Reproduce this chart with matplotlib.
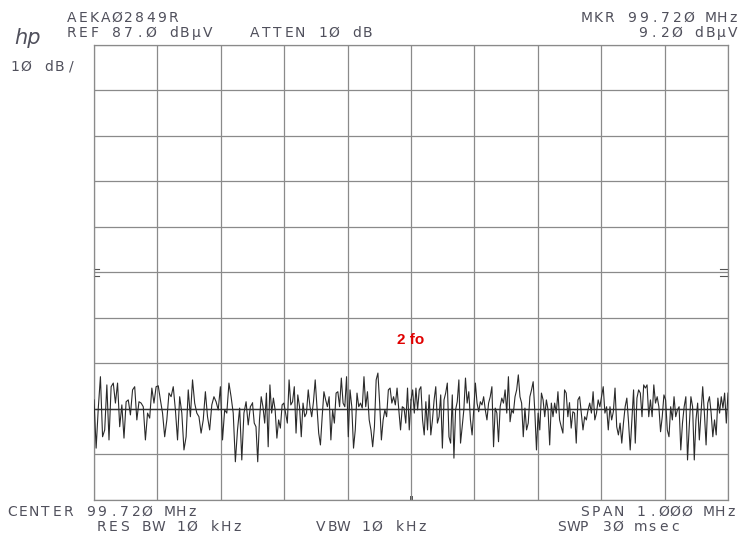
import numpy as np
import matplotlib
matplotlib.use("Agg")
import matplotlib.pyplot as plt

# Spectrum analyser settings
center_mhz = 99.720
span_mhz = 1.000
ref_level = 87.0
db_per_div = 10

# Noise trace (dBuV), one list per quarter of the span
trace_q1 = [9.0, -1.6, 7.2, 14.1, 0.9, 2.4, 12.3, 0.2, 11.9, 12.7, 8.3, 12.7, 3.1, 7.9, 0.6, 8.6,
            9.0, 5.7, 11.2, 11.9, 4.6, 8.6, 8.3, 7.5, 0.2, 6.1, 5.0, 11.6, 8.3, 11.9, 12.1, 9.0,
            6.1, 0.9, 4.6, 10.5, 9.7, 11.9, 6.8, 0.2, 9.7, 6.1, -2.0, 0.9, 11.2, 5.3, 13.4, 8.3,
            6.1, 5.3, 1.7, 4.6, 10.8, 5.3, 2.4, 7.9, 9.7, 8.6, 6.8, 11.9, 0.2, 6.8, 6.1, 12.7,
            9.7, 6.1, -4.6, 2.4, 7.2, -4.2, 6.1, 8.6, 3.5, 7.5]
trace_q2 = [8.3, 3.9, 3.1, -4.6, 4.6, 9.7, 7.5, 3.9, 10.5, -1.3, 12.3, 6.1, 9.4, 6.8, 0.6, 4.6,
            2.8, 7.9, 8.3, 6.1, 3.9, 13.4, 7.9, 8.6, 11.9, 1.7, 10.1, 7.5, 0.9, 8.3, 5.3, 6.1,
            11.2, 7.5, 5.3, 8.6, 13.4, 7.5, 1.7, -0.9, 5.3, 10.8, 9.0, 7.5, 9.7, 0.2, 6.8, 3.9,
            10.5, 10.8, 7.5, 13.8, 8.3, 7.5, 14.1, 0.9, 11.2, 7.5, -1.6, 2.4, 10.5, 7.5, 8.3, 7.2,
            14.1, 7.5, 10.8, 4.6, 2.4, -1.3, 3.1, 13.4, 14.9, 8.3, 0.2, 4.6, 6.8, 5.3, 11.2, 11.6,
            8.3, 9.7, 7.9, 11.6, 6.8, 2.4, 7.5, 7.2, 3.9, 11.6, 2.4]
trace_q3 = [9.0, 11.2, 6.1, 11.6, 6.8, 11.2, 11.9, 4.6, 1.3, 8.6, 2.4, 10.1, 1.3, 4.6, 9.0, 11.9,
            3.9, 5.3, 10.1, -1.6, 9.0, 10.5, 12.7, 0.9, -0.5, 10.1, -3.8, 6.8, 8.6, 13.4, -0.5, 3.1,
            6.8, 13.8, 8.3, 10.8, 4.6, 1.3, 6.8, 12.7, 8.3, 6.4, 8.6, 7.9, 9.7, 6.8, 4.6, 8.3,
            9.7, 11.9, -1.3, 7.2, 6.1, -0.2, 7.5, 9.4, 8.3, 11.2, 6.1, 14.1, 4.2, 6.8, 6.1, 9.7,
            11.2, 14.5, 9.7, 8.3, 0.9, 7.2, 2.4, 3.9, 9.7, 11.2, 13.0, 6.4, -2.0, 6.1, 2.4, 10.5,
            9.0, 5.3, 9.0, 6.8, -0.9, 8.3, 5.3, 8.3, 6.1, 10.8, 4.6, 3.1, 1.7, 11.2, 10.5, 5.3]
trace_q4 = [8.3, 2.8, 6.4, 6.1, -0.5, 9.0, 9.7, 6.1, 2.4, 5.3, 4.6, 6.8, 8.3, 6.1, 10.8, 4.6,
            6.1, 9.0, 7.5, 9.7, 11.9, 6.1, 7.5, 2.4, 7.5, 4.6, 6.4, 11.6, 3.1, 1.3, 3.9, -0.5,
            3.9, 7.5, 9.4, 4.2, -2.0, 4.6, 11.2, -0.5, 9.4, 11.2, 10.5, 5.3, 12.3, 11.6, 12.3, 5.3,
            9.0, 5.3, 12.3, 8.3, 9.7, 7.5, 2.0, 5.3, 10.1, 9.0, 2.4, 0.9, 7.5, 4.6, 9.7, 5.3,
            6.8, 7.5, -2.0, 3.9, 7.5, 9.7, -4.2, 3.1, 9.7, 7.5, -4.2, 4.6, 8.3, 0.2, 6.1, 11.9,
            6.1, -0.9, 8.3, 9.7, 6.1, 0.9, 4.6, 1.3, 9.4, 6.1, 9.7, 7.2, 10.5, 3.9, 10.5]

W, H = 754, 546
ink = "#50505c"

fig = plt.figure(figsize=(W / 100, H / 100), dpi=100)
fig.patch.set_facecolor("white")
ax = fig.add_axes([94 / W, 1 - 500 / H, 634 / W, 455 / H])

f0 = center_mhz - span_mhz / 2
f1 = center_mhz + span_mhz / 2
y_bot = ref_level - 10 * db_per_div

# grid
for i in range(11):
    ax.axvline(f0 + i * span_mhz / 10, color="#8a8a8a", lw=0.9, zorder=1)
    ax.axhline(y_bot + i * db_per_div, color="#8a8a8a", lw=0.9, zorder=1)
ax.axhline(y_bot + 2 * db_per_div, color="#333333", lw=1.0, zorder=2)

# trace, each quarter spread over its part of the span
quarters = [trace_q1, trace_q2, trace_q3, trace_q4]
edges = np.linspace(f0, f1, 5)
for k, q in enumerate(quarters):
    n = len(q)
    fx = np.linspace(edges[k], edges[k + 1], n, endpoint=(k == 3))
    if k < 3:
        fx = np.append(fx, edges[k + 1])
        q = q + [quarters[k + 1][0]]
    ax.plot(fx, q, color="#2a2a2a", lw=0.8, zorder=3)

ax.set_xlim(f0, f1)
ax.set_ylim(y_bot, ref_level)
ax.set_xticks([])
ax.set_yticks([])
for s in ax.spines.values():
    s.set_color("#8a8a8a")
    s.set_linewidth(0.9)

# small reference marks on the sides and bottom centre
mid = y_bot + 5 * db_per_div
for yy in (mid + 0.7, mid - 0.7):
    ax.plot([f0, f0 + 0.008], [yy, yy], color="#555555", lw=0.8, clip_on=False)
    ax.plot([f1 - 0.012, f1], [yy, yy], color="#555555", lw=0.8, clip_on=False)
for xx in (center_mhz - 0.002, center_mhz + 0.002):
    ax.plot([xx, xx], [y_bot, y_bot + 0.8], color="#555555", lw=0.7, clip_on=False)

ax.text(0.5, 0.352, "2 fo", transform=ax.transAxes, ha="center", va="center",
        color="#e00000", fontsize=11, fontweight="bold", family="Liberation Sans", zorder=5)


def hp_text(x, y, s, adv=11.3):
    # plotter style text, fixed wide character cells
    for i, ch in enumerate(s):
        if ch == " ":
            continue
        fig.text((x + i * adv + adv / 2) / W, 1 - y / H, ch, ha="center", va="center",
                 fontsize=10, color=ink, family="DejaVu Sans")


hp_text(66, 18, "AEKAØ2849R")
hp_text(66, 33, "REF 87.Ø dBµV")
hp_text(249, 33, "ATTEN 1Ø dB")
hp_text(9, 67, "1Ø dB/")
hp_text(581, 18, "MKR 99.72Ø MHz")
hp_text(637, 33, "9.2Ø dBµV")
hp_text(6, 512, "CENTER 99.72Ø MHz")
hp_text(96, 527, "RES BW 1Ø kHz")
hp_text(315, 527, "VBW 1Ø kHz")
hp_text(579, 512, "SPAN 1.ØØØ MHz")
hp_text(556, 527, "SWP 3Ø msec")

fig.text(28 / W, 1 - 38 / H, "hp", ha="center", va="center", fontsize=15,
         style="italic", color=ink, family="DejaVu Sans", fontweight="light")

fig.savefig("out.png", dpi=100, facecolor="white")
